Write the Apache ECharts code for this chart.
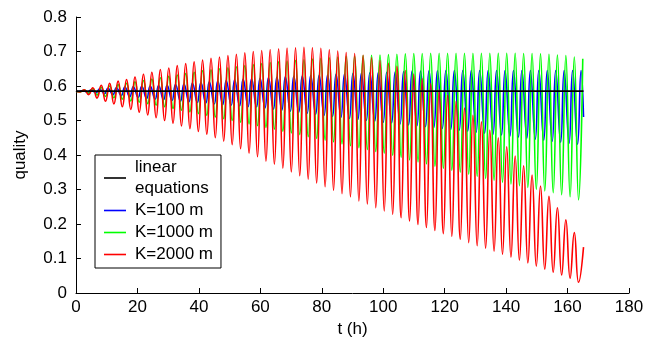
<!DOCTYPE html>
<html>
<head>
<meta charset="utf-8">
<script src="https://cdn.jsdelivr.net/npm/echarts@6/dist/echarts.min.js"></script>
<style>
  html, body { margin: 0; padding: 0; background: #fff; }
  #chart { width: 661px; height: 343px; }
</style>
</head>
<body>
<div id="chart"></div>
<script>
// values (t in hours, quality)
const startQ = 0.585;
const linearQ = 0.585;
const tEnd = 165.2;
const redEnd = 0.133;
const blueEnd = 0.51;

// times of maxima / minima for K=1000 and K=2000
const peakT = [
  2.70, 5.45, 8.20, 10.95, 13.70, 16.45, 19.20, 21.95, 24.70, 27.45,
  30.20, 32.95, 35.70, 38.45, 41.20, 43.95, 46.70, 49.45, 52.20, 54.95,
  57.70, 60.45, 63.20, 65.95, 68.70, 71.45, 74.20, 76.95, 79.70, 82.45,
  85.20, 87.95, 90.70, 93.45, 96.20, 98.95, 101.70, 104.45, 107.20, 109.95,
  112.70, 115.45, 118.20, 120.95, 123.70, 126.45, 129.20, 131.95, 134.70, 137.45,
  140.20, 142.95, 145.70, 148.45, 151.20, 153.95, 156.70, 159.45, 162.20, 164.95
];
const troughT = [
  1.33, 4.08, 6.83, 9.58, 12.33, 15.08, 17.83, 20.58, 23.33, 26.08,
  28.83, 31.58, 34.33, 37.08, 39.83, 42.58, 45.33, 48.08, 50.83, 53.58,
  56.33, 59.08, 61.83, 64.58, 67.33, 70.08, 72.83, 75.58, 78.33, 81.08,
  83.83, 86.58, 89.33, 92.08, 94.83, 97.58, 100.33, 103.08, 105.83, 108.58,
  111.33, 114.08, 116.83, 119.58, 122.33, 125.08, 127.83, 130.58, 133.33, 136.08,
  138.83, 141.58, 144.33, 147.08, 149.83, 152.58, 155.33, 158.08, 160.83, 163.58
];
// times of maxima / minima for K=100 (slightly ahead)
const bluePeakT = [
  2.15, 4.90, 7.65, 10.40, 13.15, 15.90, 18.65, 21.40, 24.15, 26.90,
  29.65, 32.40, 35.15, 37.90, 40.65, 43.40, 46.15, 48.90, 51.65, 54.40,
  57.15, 59.90, 62.65, 65.40, 68.15, 70.90, 73.65, 76.40, 79.15, 81.90,
  84.65, 87.40, 90.15, 92.90, 95.65, 98.40, 101.15, 103.90, 106.65, 109.40,
  112.15, 114.90, 117.65, 120.40, 123.15, 125.90, 128.65, 131.40, 134.15, 136.90,
  139.65, 142.40, 145.15, 147.90, 150.65, 153.40, 156.15, 158.90, 161.65, 164.40
];
const blueTroughT = [
  1.00, 3.75, 6.50, 9.25, 12.00, 14.75, 17.50, 20.25, 23.00, 25.75,
  28.50, 31.25, 34.00, 36.75, 39.50, 42.25, 45.00, 47.75, 50.50, 53.25,
  56.00, 58.75, 61.50, 64.25, 67.00, 69.75, 72.50, 75.25, 78.00, 80.75,
  83.50, 86.25, 89.00, 91.75, 94.50, 97.25, 100.00, 102.75, 105.50, 108.25,
  111.00, 113.75, 116.50, 119.25, 122.00, 124.75, 127.50, 130.25, 133.00, 135.75,
  138.50, 141.25, 144.00, 146.75, 149.50, 152.25, 155.00, 157.75, 160.50, 163.25
];

const bluePeak = [
  0.587, 0.589, 0.591, 0.593, 0.595, 0.597, 0.598, 0.599, 0.600, 0.601,
  0.602, 0.604, 0.606, 0.608, 0.610, 0.612, 0.614, 0.616, 0.618, 0.620,
  0.621, 0.622, 0.624, 0.625, 0.627, 0.628, 0.629, 0.630, 0.631, 0.632,
  0.634, 0.635, 0.636, 0.637, 0.638, 0.639, 0.640, 0.641, 0.642, 0.643,
  0.643, 0.644, 0.644, 0.645, 0.645, 0.645, 0.645, 0.645, 0.645, 0.645,
  0.645, 0.645, 0.645, 0.645, 0.645, 0.645, 0.645, 0.645, 0.645, 0.645
];
const blueTrough = [
  0.584, 0.582, 0.580, 0.578, 0.575, 0.572, 0.569, 0.567, 0.564, 0.562,
  0.560, 0.558, 0.556, 0.554, 0.552, 0.550, 0.548, 0.546, 0.544, 0.542,
  0.540, 0.539, 0.536, 0.533, 0.530, 0.527, 0.524, 0.521, 0.518, 0.515,
  0.512, 0.509, 0.506, 0.503, 0.500, 0.498, 0.495, 0.493, 0.490, 0.487,
  0.485, 0.482, 0.480, 0.477, 0.474, 0.472, 0.469, 0.466, 0.463, 0.460,
  0.458, 0.455, 0.452, 0.449, 0.446, 0.443, 0.440, 0.437, 0.434, 0.431
];
const greenPeak = [
  0.588, 0.592, 0.596, 0.600, 0.604, 0.608, 0.612, 0.616, 0.620, 0.624,
  0.628, 0.632, 0.636, 0.640, 0.644, 0.647, 0.650, 0.653, 0.656, 0.659,
  0.662, 0.665, 0.668, 0.670, 0.672, 0.674, 0.676, 0.678, 0.680, 0.682,
  0.684, 0.686, 0.687, 0.688, 0.689, 0.690, 0.691, 0.692, 0.693, 0.694,
  0.694, 0.695, 0.695, 0.695, 0.695, 0.695, 0.695, 0.695, 0.695, 0.695,
  0.695, 0.695, 0.694, 0.694, 0.693, 0.692, 0.690, 0.688, 0.684, 0.679
];
const greenTrough = [
  0.583, 0.579, 0.574, 0.570, 0.566, 0.562, 0.557, 0.553, 0.549, 0.544,
  0.540, 0.535, 0.530, 0.525, 0.520, 0.515, 0.510, 0.505, 0.500, 0.495,
  0.490, 0.485, 0.480, 0.475, 0.469, 0.464, 0.459, 0.453, 0.448, 0.443,
  0.438, 0.432, 0.427, 0.421, 0.416, 0.410, 0.405, 0.399, 0.393, 0.386,
  0.380, 0.374, 0.367, 0.361, 0.355, 0.350, 0.344, 0.338, 0.332, 0.327,
  0.321, 0.316, 0.311, 0.306, 0.301, 0.296, 0.291, 0.285, 0.279, 0.270
];
const redPeak = [
  0.589, 0.595, 0.602, 0.608, 0.614, 0.619, 0.626, 0.634, 0.640, 0.648,
  0.652, 0.659, 0.665, 0.670, 0.675, 0.680, 0.684, 0.688, 0.692, 0.696,
  0.700, 0.703, 0.706, 0.708, 0.710, 0.711, 0.712, 0.711, 0.709, 0.705,
  0.701, 0.697, 0.694, 0.689, 0.682, 0.674, 0.666, 0.657, 0.645, 0.634,
  0.621, 0.607, 0.590, 0.573, 0.556, 0.536, 0.515, 0.496, 0.472, 0.450,
  0.424, 0.397, 0.369, 0.342, 0.310, 0.280, 0.247, 0.212, 0.175
];
const redTrough = [
  0.583, 0.575, 0.565, 0.556, 0.548, 0.540, 0.532, 0.524, 0.516, 0.508,
  0.500, 0.492, 0.484, 0.476, 0.468, 0.460, 0.450, 0.440, 0.430, 0.418,
  0.405, 0.395, 0.382, 0.373, 0.362, 0.351, 0.340, 0.330, 0.319, 0.308,
  0.298, 0.288, 0.279, 0.267, 0.258, 0.247, 0.238, 0.228, 0.218, 0.209,
  0.199, 0.190, 0.181, 0.172, 0.164, 0.156, 0.146, 0.137, 0.130, 0.121,
  0.112, 0.104, 0.095, 0.087, 0.078, 0.069, 0.060, 0.052, 0.043, 0.031
];

const xTicks = { min: 0, max: 180, interval: 20 };
const yTicks = { min: 0, max: 0.8, interval: 0.1 };

// trough, peak, trough, peak ... starting from the common initial value
function zigzag(tT, vT, tP, vP, endPoint) {
  const pts = [[0, startQ]];
  for (let i = 0; i < tT.length; i++) {
    pts.push([tT[i], vT[i]]);
    if (i < vP.length) pts.push([tP[i], vP[i]]);
  }
  if (endPoint) pts.push(endPoint);
  return pts;
}

const font = "'Liberation Sans', Arial, Helvetica, sans-serif";
const chart = echarts.init(document.getElementById('chart'), null, { renderer: 'canvas' });

const lineSeries = (name, color, data, width, z) => ({
  name,
  type: 'line',
  data,
  smooth: 0.5,
  symbol: 'none',
  z,
  lineStyle: { color, width },
  itemStyle: { color },
  emphasis: { disabled: true },
});

chart.setOption({
  animation: false,
  backgroundColor: '#fff',
  textStyle: { fontFamily: font },
  grid: { left: 76, right: 32, top: 17, bottom: 50 },
  legend: {
    orient: 'vertical',
    left: 95,
    top: 155,
    data: ['linear\nequations', 'K=100 m', 'K=1000 m', 'K=2000 m'],
    icon: 'rect',
    itemWidth: 22,
    itemHeight: 1.6,
    itemGap: 1,
    padding: [2, 8, 3, 9],
    borderColor: '#000',
    borderWidth: 1,
    borderRadius: 0,
    textStyle: {
      fontFamily: font, fontSize: 17, color: '#000', lineHeight: 21,
      padding: [0, 0, 0, 4],
    },
  },
  xAxis: {
    type: 'value',
    ...xTicks,
    name: 't (h)',
    nameLocation: 'middle',
    nameGap: 27,
    nameTextStyle: { fontFamily: font, fontSize: 17, color: '#000' },
    axisLine: { lineStyle: { color: '#000', width: 1 } },
    axisTick: { inside: true, length: 5, lineStyle: { color: '#000' } },
    axisLabel: { color: '#000', fontSize: 17, margin: 6, fontFamily: font },
    splitLine: { show: false },
  },
  yAxis: {
    type: 'value',
    ...yTicks,
    name: 'quality',
    nameLocation: 'middle',
    nameGap: 47,
    nameTextStyle: { fontFamily: font, fontSize: 17, color: '#000' },
    axisLine: { show: true, lineStyle: { color: '#000', width: 1 } },
    axisTick: { show: true, inside: true, length: 5, lineStyle: { color: '#000' } },
    axisLabel: { color: '#000', fontSize: 17, margin: 9, fontFamily: font },
    splitLine: { show: false },
  },
  series: [
    lineSeries('K=100 m', '#0000ff',
      zigzag(blueTroughT, blueTrough, bluePeakT, bluePeak, [tEnd, blueEnd]), 1.6, 2),
    lineSeries('K=1000 m', '#00ff00',
      zigzag(troughT, greenTrough, peakT, greenPeak, null), 1.6, 3),
    lineSeries('K=2000 m', '#ff0000',
      zigzag(troughT, redTrough, peakT, redPeak, [tEnd, redEnd]), 1.6, 4),
    lineSeries('linear\nequations', '#000000',
      [[0, linearQ], [tEnd, linearQ]], 1.8, 5),
  ],
});
</script>
</body>
</html>
